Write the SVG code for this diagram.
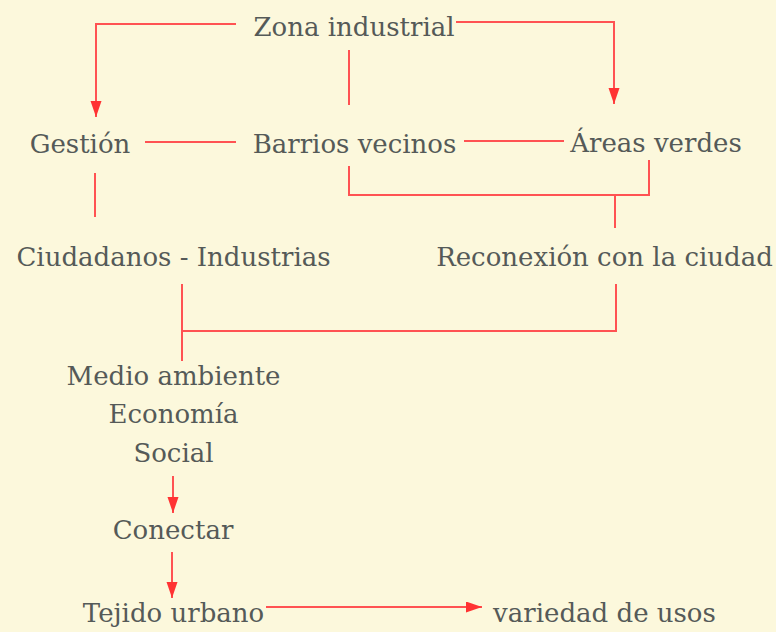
<svg xmlns="http://www.w3.org/2000/svg" width="776" height="632" viewBox="0 0 776 632">
<style>
  text { font-family: "DejaVu Serif", "Liberation Serif", serif; font-size: 26px; fill: #555a58; text-anchor: middle; }
  .c { fill: none; stroke: #ff5252; stroke-width: 2; }
  .a { marker-end: url(#arr); }
</style>
<defs>
  <marker id="arr" markerUnits="userSpaceOnUse" markerWidth="16" markerHeight="12" refX="16" refY="5.5" orient="auto">
    <path d="M0,0 L16,5.5 L0,11 z" fill="#ff3333"/>
  </marker>
</defs>
<rect width="776" height="632" fill="#fcf8dc"/>
<g id="connectors">
  <path class="c a" d="M236,24 H96 V117"/>
  <path class="c a" d="M456,22 H614 V104"/>
  <path class="c" d="M349,50 V105"/>
  <path class="c" d="M145,142 H236"/>
  <path class="c" d="M464,141 H564"/>
  <path class="c" d="M95,173 V217"/>
  <path class="c" d="M349,166 V195 H649 V160"/>
  <path class="c" d="M615,195 V228"/>
  <path class="c" d="M182,284 V361"/>
  <path class="c" d="M182,331 H616 V284"/>
  <path class="c a" d="M173,476 V513"/>
  <path class="c a" d="M172,552 V598"/>
  <path class="c a" d="M266,607 H482"/>
</g>
<g id="zona"><text x="354" y="36">Zona industrial</text></g>
<g id="gestion"><text x="80" y="153">Gestión</text></g>
<g id="barrios"><text x="354.5" y="153">Barrios vecinos</text></g>
<g id="areas"><text x="656" y="152">Áreas verdes</text></g>
<g id="ciudadanos"><text x="173.5" y="266">Ciudadanos - Industrias</text></g>
<g id="reconexion"><text x="604.5" y="266">Reconexión con la ciudad</text></g>
<g id="medio">
  <text x="173.5" y="385">Medio ambiente</text>
  <text x="173.5" y="423">Economía</text>
  <text x="173.5" y="462">Social</text>
</g>
<g id="conectar"><text x="173" y="539">Conectar</text></g>
<g id="tejido"><text x="173.5" y="622">Tejido urbano</text></g>
<g id="variedad"><text x="604.5" y="622">variedad de usos</text></g>
</svg>
